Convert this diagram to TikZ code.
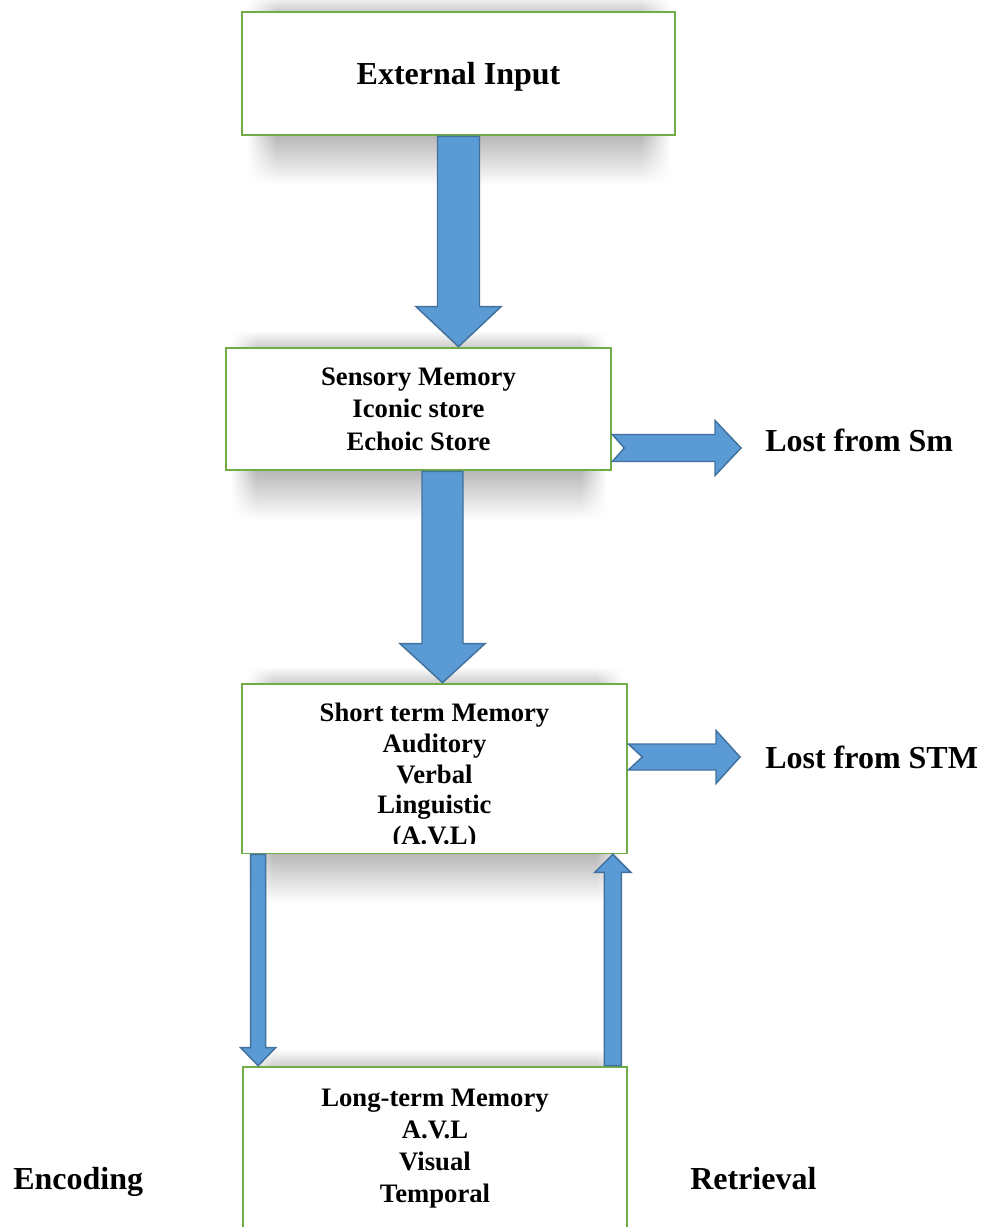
\documentclass[tikz,border=0pt]{standalone}
\usepackage{fontspec}
\setmainfont{Liberation Serif}
\usetikzlibrary{calc,positioning,fadings,backgrounds}
\definecolor{memgreen}{RGB}{112,173,71}
\definecolor{flowblue}{RGB}{91,155,213}
\definecolor{flowedge}{RGB}{65,113,156}
\pgfdeclarehorizontalshading{bandshade}{100bp}{color(0bp)=(white); color(25bp)=(white);
  color(28.5bp)=(gray!55); color(71.5bp)=(gray!55); color(75bp)=(white); color(100bp)=(white)}
\newlength\pxu
\setlength\pxu{0.75pt}
% vertical block arrow: start, tip, shaft half, head half, signed head length
\newcommand\blockv[5]{%
  \draw[flowarrow] ($(#1)+(-#3,0)$) -- ($(#1)+(#3,0)$) -- ($(#2)+(#3,#5)$) -- ($(#2)+(#4,#5)$)
    -- (#2) -- ($(#2)+(-#4,#5)$) -- ($(#2)+(-#3,#5)$) -- cycle;}
% notched block arrow to the right: start, tip, shaft half, head half, head length, notch
\newcommand\blockh[6]{%
  \draw[flowarrow] ($(#1)+(0,-#3)$) -- ($(#2)+(-#5,-#3)$) -- ($(#2)+(-#5,-#4)$) -- (#2)
    -- ($(#2)+(-#5,#4)$) -- ($(#2)+(-#5,#3)$) -- ($(#1)+(0,#3)$) -- ($(#1)+(#6,0)$) -- cycle;}
% soft shadow above and below a box
\newcommand\boxshade[1]{%
  \shade[shading=bandshade,path fading=south] ($(#1.south west)+(6,0)$) rectangle ($(#1.south east)+(-6,48)$);
  \shade[shading=bandshade,path fading=north,opacity=0.7] ($(#1.north west)+(6,-16)$) rectangle ($(#1.north east)+(-6,0)$);}
\tikzset{
  membox/.style={draw=memgreen,line width=2pt,fill=white,align=center,inner sep=0pt,
    font=\fontsize{20}{24.5}\selectfont\bfseries},
  flowarrow/.style={draw=flowedge,line width=1.1pt,fill=flowblue,line join=miter},
  lostlbl/.style={anchor=base west,inner sep=0pt,font=\fontsize{24}{29}\selectfont\bfseries}
}
\begin{document}
\begin{tikzpicture}[x=0.75pt,y=-0.75pt]
  \useasboundingbox (0,0) rectangle (981,1227);
  \clip (0,0) rectangle (981,1227);
  % stores
  \node[membox,minimum width=433\pxu,minimum height=123\pxu,text depth=0pt,
    font=\fontsize{24}{29}\selectfont\bfseries] (inp) at (458.5,73.5) {External Input};
  \node[membox,minimum width=385\pxu,minimum height=122\pxu] (sens) at (418.5,409)
    {Sensory Memory\\Iconic store\\Echoic Store};
  \node[membox,minimum width=385\pxu,minimum height=169\pxu,font=\fontsize{20}{23}\selectfont\bfseries]
    (stm) at (434.5,768.5) {\rule{0pt}{26pt}Short term Memory\\Auditory\\Verbal\\Linguistic\\(A.V.L)};
  \fill[white] ($(stm.south west)+(2,-10)$) rectangle ($(stm.south east)+(-2,-1.6)$);
  \node[membox,minimum width=384\pxu,minimum height=164\pxu,font=\fontsize{20}{24}\selectfont\bfseries]
    (ltm) at (435,1149) {Long-term Memory\\A.V.L\\Visual\\Temporal};
  \begin{scope}[on background layer]
    \fill[white] (0,0) rectangle (981,1227);
    \boxshade{inp}
    \boxshade{sens}
    \boxshade{stm}
    \boxshade{ltm}
  \end{scope}
  % arrow ends
  \coordinate (a2) at ($(sens.south)+(24,0)$);
  \coordinate (enc) at ($(stm.south west)+(17.5,0)$);
  \coordinate (ret) at ($(ltm.north east)+(-15.5,0)$);
  \coordinate (smtip) at (741,448);
  \coordinate (stmtip) at (740,757);
  % block arrows
  \blockv{inp.south}{inp.south |- sens.north}{21}{42.5}{-40}
  \blockv{a2}{a2 |- stm.north}{20.5}{42.5}{-39}
  \blockv{enc}{enc |- ltm.north}{7.5}{17.5}{-18}
  \blockv{ret}{ret |- stm.south}{8.5}{18}{18}
  \blockh{sens.east |- smtip}{smtip}{13.5}{27.5}{26}{12}
  \blockh{stm.east |- stmtip}{stmtip}{13}{26.5}{24}{14}
  % labels
  \node[lostlbl] (lostsm) at (765,451) {Lost from Sm};
  \node[lostlbl] (loststm) at (765,768) {Lost from STM};
  \node[lostlbl] (encl) at (13,1189) {Encoding};
  \node[lostlbl] (retl) at (690,1189) {Retrieval};
\end{tikzpicture}
\end{document}
